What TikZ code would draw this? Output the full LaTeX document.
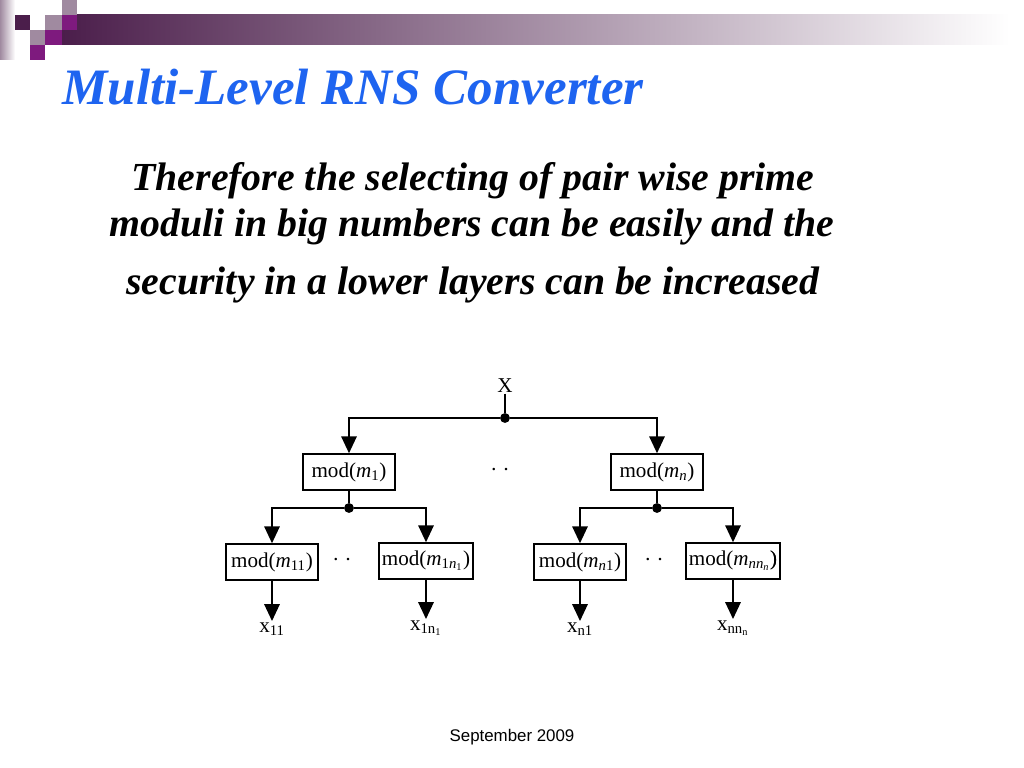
\documentclass[tikz,border=0pt]{standalone}
\usepackage{fontspec}
\setmainfont{Liberation Serif}
\newfontfamily\datefont{Liberation Sans}
\usetikzlibrary{arrows.meta}
\definecolor{Plum}{HTML}{4B1E4B}
\definecolor{Orchid}{HTML}{7E1A7E}
\definecolor{Mauve}{HTML}{A08AA0}
\definecolor{TitleBlue}{HTML}{1E64F0}

\begin{document}
\begin{tikzpicture}[x=0.025cm,y=-0.025cm,
    box/.style={draw,line width=1.1pt,minimum width=2.3cm,minimum height=0.9cm,inner sep=2pt,font=\fontsize{15}{17}\selectfont},
    lbl/.style={inner sep=1pt,font=\fontsize{15}{17}\selectfont},
    arr/.style={-{Triangle[length=12pt,width=11pt]},line width=1.1pt},
    dot/.style={circle,fill,inner sep=0pt,minimum size=7pt},
    body/.style={anchor=base,font=\fontsize{28.3}{33}\selectfont\bfseries\itshape}
  ]
    \useasboundingbox (0,0) rectangle (1024,768);
    % header bar and squares
    \shade[left color=Mauve,right color=white] (0,0) rectangle (15,60);
    \shade[left color=Plum,right color=white] (62,15) rectangle (1010,45);
    \fill[Plum] (15,15) rectangle (30,30);
    \fill[Mauve] (62,0) rectangle (77,15);
    \fill[Mauve] (45,15) rectangle (62,30);
    \fill[Orchid] (62,15) rectangle (77,30);
    \fill[Mauve] (30,30) rectangle (45,45);
    \fill[Orchid] (45,30) rectangle (62,45);
    \fill[Orchid] (30,45) rectangle (45,60);
    % texts
    \node[anchor=base west,inner sep=0pt,text=TitleBlue,font=\fontsize{36.3}{40}\selectfont\bfseries\itshape] (title) at (62,105) {Multi-Level RNS Converter};
    \node[body] (line1) at (473,190) {Therefore the selecting of pair wise prime};
    \node[body] (line2) at (472,236) {moduli in big numbers can be easily and the};
    \node[body] (line3) at (473,294) {security in a lower layers can be increased};
    % tree
    \node[lbl,anchor=base] (x) at (505,392) {X};
    \node[dot] (d0) at (505,418) {};
    \node[box] (m1) at (349,472) {mod(\textit{m}\textsubscript{1})};
    \node[box] (mn) at (657,472) {mod(\textit{m}\textsubscript{\textit{n}})};
    \node[lbl] (dots0) at (500,472) {\textperiodcentered\ \textperiodcentered};
    \draw[line width=1.1pt] (x) -- (d0);
    \draw[arr] (d0) -| (m1);
    \draw[arr] (d0) -| (mn);
    \node[dot] (d1) at (349,508) {};
    \node[dot] (d2) at (657,508) {};
    \draw[line width=1.1pt] (m1) -- (d1);
    \draw[line width=1.1pt] (mn) -- (d2);
    \node[box] (m11) at (272,562) {mod(\textit{m}\textsubscript{11})};
    \node[box] (m1n) at (426,561) {mod(\textit{m}\textsubscript{1\textit{n}\textsubscript{1}})};
    \node[box] (mn1) at (580,562) {mod(\textit{m}\textsubscript{\textit{n}1})};
    \node[box] (mnn) at (733,561) {mod(\textit{m}\textsubscript{\textit{nn}\textsubscript{\textit{n}}}\rlap{)})};
    \node[lbl] (dots1) at (342,562) {\textperiodcentered\ \textperiodcentered};
    \node[lbl] (dots2) at (654,562) {\textperiodcentered\ \textperiodcentered};
    \draw[arr] (d1) -| (m11);
    \draw[arr] (d1) -| (m1n);
    \draw[arr] (d2) -| (mn1);
    \draw[arr] (d2) -| (mnn);
    \node[lbl,anchor=north] (x11) at (272,621) {x\textsubscript{11}};
    \node[lbl,anchor=north] (x1n) at (426,619) {x\textsubscript{1n\textsubscript{1}}};
    \node[lbl,anchor=north] (xn1) at (580,621) {x\textsubscript{n1}};
    \node[lbl,anchor=north] (xnn) at (733,619) {x\textsubscript{nn\textsubscript{n}}};
    \draw[arr] (m11) -- (x11);
    \draw[arr] (m1n) -- (x1n);
    \draw[arr] (mn1) -- (xn1);
    \draw[arr] (mnn) -- (xnn);
    \node[font=\datefont\fontsize{12}{14}\selectfont] (date) at (512,737) {September 2009};
  \end{tikzpicture}
\end{document}
